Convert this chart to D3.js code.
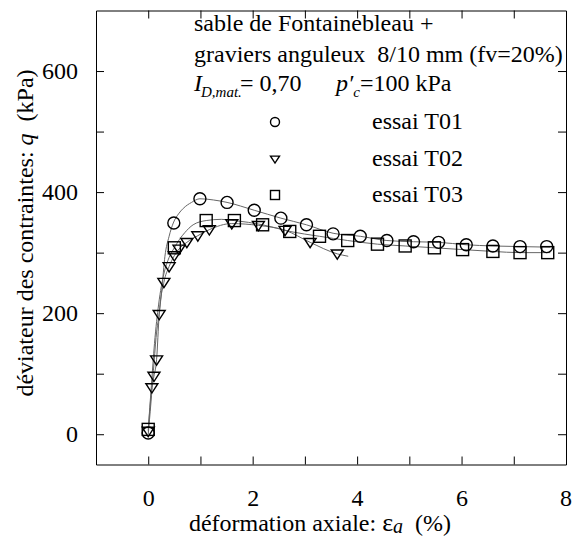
<!DOCTYPE html>
<html><head><meta charset="utf-8">
<script src="https://cdn.jsdelivr.net/npm/d3@7"></script>
<style>
body{margin:0;background:#fff;}
svg text{font-family:"Liberation Serif","Times New Roman",Times,"DejaVu Serif",serif;fill:#000;}
</style></head>
<body><svg id="c" width="580" height="538"></svg>
<script>
// ---- data ----
const xTicks = [0,1,2,3,4,5,6,7];
const xTickLabels = ["0","","2","","4","","6",""];
const yTicks = [0,100,200,300,400,500,600];
const yTickLabels = ["0","","200","","400","","600"];
const seriesNames = ["essai T01","essai T02","essai T03"];

// markers
const t01Eps = [0,0.49,0.99,1.51,2.03,2.54,3.03,3.54,4.06,4.57,5.08,5.56,6.09,6.60,7.12,7.63];
const t01Q   = [2,349,389,383,370,357,346,331,327,320,318,317,313,311,310,310];
const t02Eps = [0,0.07,0.11,0.16,0.21,0.30,0.40,0.50,0.59,0.74,0.95,1.17,1.60,2.11,2.62,3.10,3.62];
const t02Q   = [5,77,96,123,198,251,277,295,306,317,328,338,348,345,337,317,298];
const t03Eps = [0,0.50,1.11,1.65,2.19,2.71,3.28,3.82,4.39,4.92,5.48,6.02,6.60,7.12,7.65];
const t03Q   = [8,308,353,353,346,335,327,320,314,311,308,305,302,300,300];

// measured curves
const c01Eps = [0,0.05,0.10,0.15,0.22,0.26,0.32,0.40,0.48,0.58,0.67,0.83,0.99,1.25,1.51,2.03,2.54,3.03,3.54,4.06,4.57,5.08,5.56,6.09,6.60,7.12,7.70];
const c01Q   = [0,50,105,160,206,239,294,327,349,364,373,383,389,387,383,370,357,346,332,327,320,318,317,313,311,310,309];
const c02Eps = [0,0.07,0.11,0.16,0.21,0.30,0.40,0.50,0.59,0.74,0.95,1.17,1.60,2.11,2.62,3.10,3.62,3.83];
const c02Q   = [5,77,96,123,198,251,277,295,306,317,328,338,348,345,337,317,298,294];
const c03Eps = [0,0.06,0.12,0.20,0.30,0.40,0.50,0.60,0.70,0.86,1.11,1.40,1.65,2.19,2.71,3.28,3.82,4.39,4.92,5.48,6.02,6.60,7.12,7.70];
const c03Q   = [8,80,150,215,265,292,308,322,333,346,353,355,353,346,335,327,320,314,311,308,305,302,300,300];

// ---- chart ----
const FONT = '"Liberation Serif","Times New Roman",Times,"DejaVu Serif",serif';
const svg = d3.select("#c");
const x = d3.scaleLinear().domain([-1,8]).range([96,566]);
const y = d3.scaleLinear().domain([-50,700]).range([464.5,10.5]);
const FS = 24;

// axes
const gB = svg.append("g").attr("transform",`translate(0,${y(-50)})`)
  .call(d3.axisBottom(x).tickValues(xTicks).tickSize(-8).tickSizeOuter(0)
    .tickFormat((d,i)=>xTickLabels[i]));
gB.selectAll("text").attr("y",0).attr("dy",0).attr("transform","translate(0,41.5)");
const gT = svg.append("g").attr("transform",`translate(0,${y(700)})`)
  .call(d3.axisTop(x).tickValues(xTicks).tickSize(-8).tickSizeOuter(0).tickFormat(""));
const gL = svg.append("g").attr("transform",`translate(${x(-1)},0)`)
  .call(d3.axisLeft(y).tickValues(yTicks).tickSize(-8).tickSizeOuter(0)
    .tickFormat((d,i)=>yTickLabels[i]).tickPadding(18));
const gR = svg.append("g").attr("transform",`translate(${x(8)},0)`)
  .call(d3.axisRight(y).tickValues(yTicks).tickSize(-8).tickSizeOuter(0).tickFormat(""));
[gB,gT,gL,gR].forEach(g=>{
  g.attr("font-family",FONT);
  g.selectAll("path,line").attr("stroke","#000").attr("stroke-width",1);
  g.selectAll("text").attr("font-size",FS).attr("font-family",FONT).attr("fill","#000");
});
// x=8 label under the right frame
svg.append("text").attr("x",x(8)).attr("y",506).attr("text-anchor","middle")
  .attr("font-size",FS).attr("font-family",FONT).text("8");

// curves
const line = d3.line().x(d=>x(d[0])).y(d=>y(d[1])).curve(d3.curveMonotoneX);
const curves = [[c01Eps,c01Q],[c02Eps,c02Q],[c03Eps,c03Q]];
curves.forEach(([e,q])=>{
  svg.append("path").datum(e.map((v,i)=>[v,q[i]]))
    .attr("d",line).attr("fill","none").attr("stroke","#666").attr("stroke-width",1);
});

// markers
function marker(g, type, cx, cy, s){
  if(type===0){
    g.append("circle").attr("cx",cx).attr("cy",cy).attr("r",s*0.5)
      .attr("fill","none").attr("stroke","#000").attr("stroke-width",1.4);
  } else if(type===1){
    const h=s*0.5;
    g.append("path").attr("d",`M${cx-h},${cy-h*0.65}L${cx+h},${cy-h*0.65}L${cx},${cy+h*0.9}Z`)
      .attr("fill","none").attr("stroke","#000").attr("stroke-width",1.4);
  } else {
    const h=s*0.5;
    g.append("rect").attr("x",cx-h).attr("y",cy-h).attr("width",s).attr("height",s)
      .attr("fill","none").attr("stroke","#000").attr("stroke-width",1.4);
  }
}
const mk = svg.append("g");
[[t01Eps,t01Q],[t02Eps,t02Q],[t03Eps,t03Q]].forEach(([e,q],k)=>{
  e.forEach((v,i)=>marker(mk,k,x(v),y(q[i]),12));
});

// annotation text
const tb = svg.append("g").attr("font-size",FS).attr("font-family",FONT);
tb.append("text").attr("x",194).attr("y",31).text("sable de Fontainebleau +");
tb.append("text").attr("x",194).attr("y",62).attr("xml:space","preserve").text("graviers anguleux  8/10 mm (fv=20%)");
const l3 = tb.append("text").attr("y",91);
l3.append("tspan").attr("x",194).attr("font-style","italic").text("I");
l3.append("tspan").attr("x",201).attr("dy",6).attr("font-style","italic").attr("font-size",15).text("D,mat.");
l3.append("tspan").attr("x",240).attr("dy",-6).text("= 0,70");
l3.append("tspan").attr("x",336).attr("font-style","italic").text("p′");
l3.append("tspan").attr("dy",6).attr("font-style","italic").attr("font-size",15).text("c");
l3.append("tspan").attr("dy",-6).text("=100 kPa");

// legend
const legY = [122,159,195];
seriesNames.forEach((n,k)=>{
  marker(svg,k,275,legY[k],9);
  svg.append("text").attr("x",372).attr("y",legY[k]+7).attr("font-size",FS)
    .attr("font-family",FONT).text(n);
});

// axis titles
const xt = svg.append("text").attr("x",320).attr("y",530.5).attr("text-anchor","middle")
  .attr("font-size",FS).attr("font-family",FONT);
xt.append("tspan").text("déformation axiale: ");
xt.append("tspan").attr("font-size",26).text("ε");
xt.append("tspan").attr("font-style","italic").attr("font-size",20).attr("dy",2).text("a");
xt.append("tspan").attr("dy",-2).attr("xml:space","preserve").text("  (%)");

const yt = svg.append("text").attr("transform","translate(33,233) rotate(-90)")
  .attr("text-anchor","middle").attr("font-size",FS).attr("font-family",FONT);
yt.append("tspan").text("déviateur des contraintes: ");
yt.append("tspan").attr("font-style","italic").text("q");
yt.append("tspan").attr("xml:space","preserve").text("  (kPa)");
</script></body></html>
